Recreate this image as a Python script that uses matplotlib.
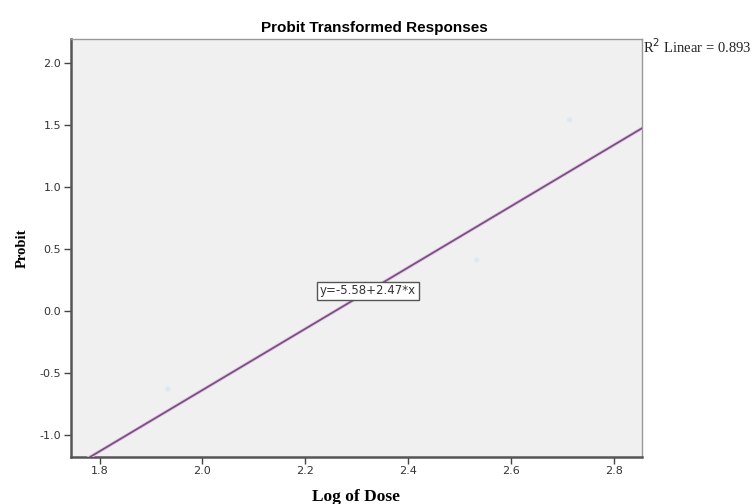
import numpy as np
import matplotlib
matplotlib.use("Agg")
import matplotlib.pyplot as plt

# observed points (faint in the original) and the fitted line
log_dose = [1.933, 2.533, 2.714]
probit = [-0.631, 0.409, 1.538]
intercept = -5.58
slope = 2.47
r2 = 0.893

x_ticks = [1.8, 2.0, 2.2, 2.4, 2.6, 2.8]
y_ticks = [-1.0, -0.5, 0.0, 0.5, 1.0, 1.5, 2.0]

fig = plt.figure(figsize=(7.53, 5.04), dpi=100)
# axes box in pixels: x 70.7..641.7, y 39..456.7
ax = fig.add_axes([70.7 / 753, 1 - 456.7 / 504, 571 / 753, 417.7 / 504])
ax.set_facecolor("#f0f0f0")

xmin, xmax = 1.744, 2.854
ymin, ymax = -1.177, 2.19

ax.scatter(log_dose, probit, s=14, color="#dce8f5", edgecolors="none", zorder=2)

xs = np.array([xmin, xmax])
ax.plot(xs, intercept + slope * xs, color="#e6cde8", lw=2.6, zorder=3)
ax.plot(xs, intercept + slope * xs, color="#7a4f82", lw=1.3, zorder=4)

ax.set_xlim(xmin, xmax)
ax.set_ylim(ymin, ymax)
ax.set_xticks(x_ticks)
ax.set_xticklabels(["%.1f" % v for v in x_ticks])
ax.set_yticks(y_ticks)
ax.set_yticklabels(["%.1f" % v for v in y_ticks])
ax.tick_params(direction="out", length=5, width=1, color="#444444",
               labelsize=8, labelcolor="#333333", pad=2)

for s in ["left", "bottom"]:
    ax.spines[s].set_color("#555555")
    ax.spines[s].set_linewidth(1.8)
for s in ["top", "right"]:
    ax.spines[s].set_color("#999999")
    ax.spines[s].set_linewidth(1.0)

fig.text(374 / 753, 1 - 28 / 504, "Probit Transformed Responses", fontsize=11,
         fontweight="bold", family="Liberation Sans", ha="center", va="center")
ax.set_xlabel("Log of Dose", fontsize=12.5, fontweight="bold",
              family="Liberation Serif", labelpad=9)
ax.set_ylabel("Probit", fontsize=10.5, fontweight="bold",
              family="Liberation Serif", labelpad=8)

ax.text(2.322, 0.159, "y=-5.58+2.47*x", fontsize=8.5, ha="center", va="center",
        color="#333333", zorder=5,
        bbox=dict(boxstyle="square,pad=0.25", fc="white", ec="#555555", lw=1))

fig.text(643 / 753, 1 - 47 / 504, "R$^2$ Linear = %.3f" % r2, fontsize=10.5,
         family="Liberation Serif", ha="left", va="center", color="#222222")

fig.savefig("out.png", dpi=100)
